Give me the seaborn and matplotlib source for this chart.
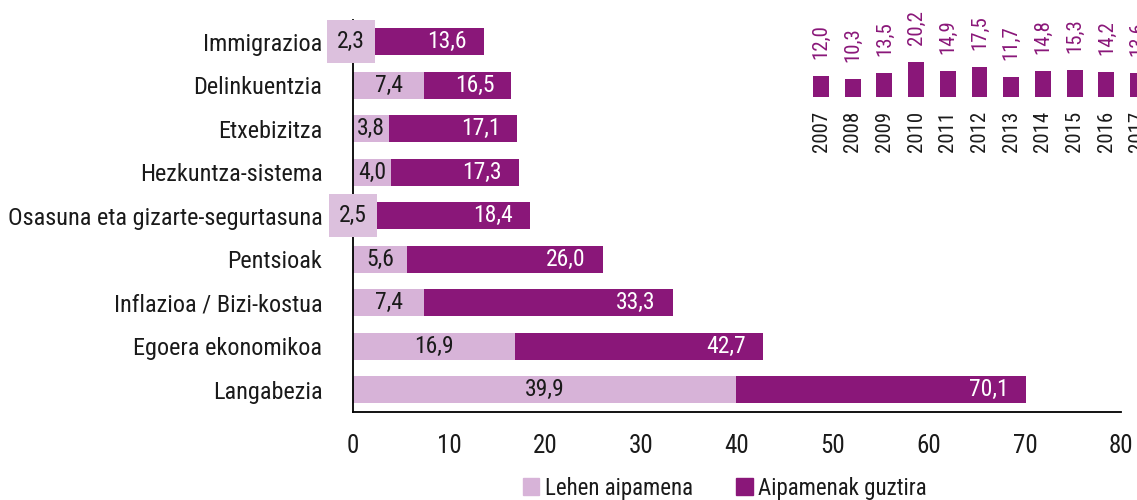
import matplotlib
matplotlib.use("Agg")
import matplotlib.pyplot as plt
from matplotlib import font_manager
from matplotlib.patches import Patch
import seaborn as sns
import pandas as pd

# ---------------- data ----------------
categories = ["Immigrazioa", "Delinkuentzia", "Etxebizitza", "Hezkuntza-sistema",
              "Osasuna eta gizarte-segurtasuna", "Pentsioak", "Inflazioa / Bizi-kostua",
              "Egoera ekonomikoa", "Langabezia"]
first_mention = [2.3, 7.4, 3.8, 4.0, 2.5, 5.6, 7.4, 16.9, 39.9]
total_mentions = [13.6, 16.5, 17.1, 17.3, 18.4, 26.0, 33.3, 42.7, 70.1]
series_names = ["Lehen aipamena", "Aipamenak guztira"]
x_ticks = [0, 10, 20, 30, 40, 50, 60, 70, 80]

years = ["2007", "2008", "2009", "2010", "2011", "2012", "2013", "2014", "2015", "2016", "2017"]
year_values = [12.0, 10.3, 13.5, 20.2, 14.9, 17.5, 11.7, 14.8, 15.3, 14.2, 13.6]

# ---------------- style ----------------
LIGHT = "#d7b3d8"
DARK = "#8a1779"
TXT = "#1a1a1a"

sns.set_theme(style="white")
available = {f.name for f in font_manager.fontManager.ttflist}
font = "DejaVu Sans"
for cand in ["Roboto Condensed", "Archivo Narrow", "PT Sans Narrow", "Fira Sans Condensed",
             "IBM Plex Sans Condensed", "Liberation Sans Narrow", "Open Sans Condensed"]:
    if cand in available:
        font = cand
        break
plt.rcParams["font.family"] = [font, "DejaVu Sans"]

def fmt(v):
    return f"{v:.1f}".replace(".", ",")

fig = plt.figure(figsize=(11.37, 5), dpi=100)
W, H = 1137, 500

# ---------------- main axes ----------------
ax = fig.add_axes([353 / W, 1 - 411.5 / H, (1121 - 353) / W, (411.5 - 20) / H])
df = pd.DataFrame({"cat": categories, "first": first_mention, "total": total_mentions})
sns.barplot(data=df, y="cat", x="total", color=DARK, width=0.62, ax=ax,
            orient="h", saturation=1, linewidth=0)
sns.barplot(data=df, y="cat", x="first", color=LIGHT, width=0.62, ax=ax,
            orient="h", saturation=1, linewidth=0)

ax.set_xlim(0, 80)
ax.set_ylim(len(categories) - 0.5, -0.5)
ax.set_xlabel("")
ax.set_ylabel("")
ax.set_xticks(x_ticks)
ax.set_xticklabels([str(t) for t in x_ticks], fontsize=18, color=TXT)
ax.set_yticks(range(len(categories)))
ax.set_yticklabels(categories, fontsize=17.5, color=TXT)
ax.set_yticks([i - 0.5 for i in range(len(categories) + 1)], minor=True)
ax.tick_params(axis="y", which="major", length=0, pad=22)
ax.tick_params(axis="y", which="minor", length=7, width=1.2, color="#999999")
ax.tick_params(axis="x", which="major", length=8, width=1.2, color="#999999", pad=8)
for s in ["top", "right"]:
    ax.spines[s].set_visible(False)
for s in ["left", "bottom"]:
    ax.spines[s].set_color("black")
    ax.spines[s].set_linewidth(1.3)

for i, (f, t) in enumerate(zip(first_mention, total_mentions)):
    if f < 3:
        ax.annotate(fmt(f), (f, i), xytext=(-10, 0), textcoords="offset pixels",
                    ha="right", va="center", fontsize=17, color=TXT, zorder=5,
                    bbox=dict(boxstyle="square,pad=0.42", fc="#dcc0dd", ec="none"))
    else:
        ax.annotate(fmt(f), (f / 2, i), ha="center", va="center",
                    fontsize=17, color=TXT, zorder=5)
    ax.annotate(fmt(t), (t, i), xytext=(-17, 0), textcoords="offset pixels",
                ha="right", va="center", fontsize=17, color="white", zorder=5)

# ---------------- inset ----------------
step = 31.7
x0 = 821 - 0.5 * step
ax2 = fig.add_axes([x0 / W, 1 - 96.7 / H, len(years) * step / W, 25 * 1.72 / H])
dfy = pd.DataFrame({"year": years, "value": year_values})
sns.barplot(data=dfy, x="year", y="value", color=DARK, width=0.5, ax=ax2,
            saturation=1, linewidth=0)
ax2.set_xlim(-0.5, len(years) - 0.5)
ax2.set_ylim(0, 25)
ax2.set_xlabel("")
ax2.set_ylabel("")
ax2.set_yticks([])
ax2.set_xticks(range(len(years)))
ax2.set_xticklabels(years, rotation=90, fontsize=15, color=TXT, va="top", ha="center")
ax2.tick_params(axis="x", length=0, pad=10)
for s in ax2.spines.values():
    s.set_visible(False)
ax2.patch.set_alpha(0)
for i, v in enumerate(year_values):
    ax2.annotate(fmt(v), (i, v), xytext=(0, 17), textcoords="offset pixels",
                 ha="center", va="bottom", rotation=90, fontsize=15, color=DARK,
                 annotation_clip=False)

# ---------------- legend ----------------
handles = [Patch(color=LIGHT, label=series_names[0]), Patch(color=DARK, label=series_names[1])]
fig.legend(handles=handles, loc="center", bbox_to_anchor=(725 / W, 1 - 488 / H), ncol=2,
           frameon=False, fontsize=16.5, handlelength=0.7, handleheight=0.7,
           handletextpad=0.25, columnspacing=1.9, borderpad=0, labelcolor=TXT)

fig.savefig("out.png", dpi=100)
